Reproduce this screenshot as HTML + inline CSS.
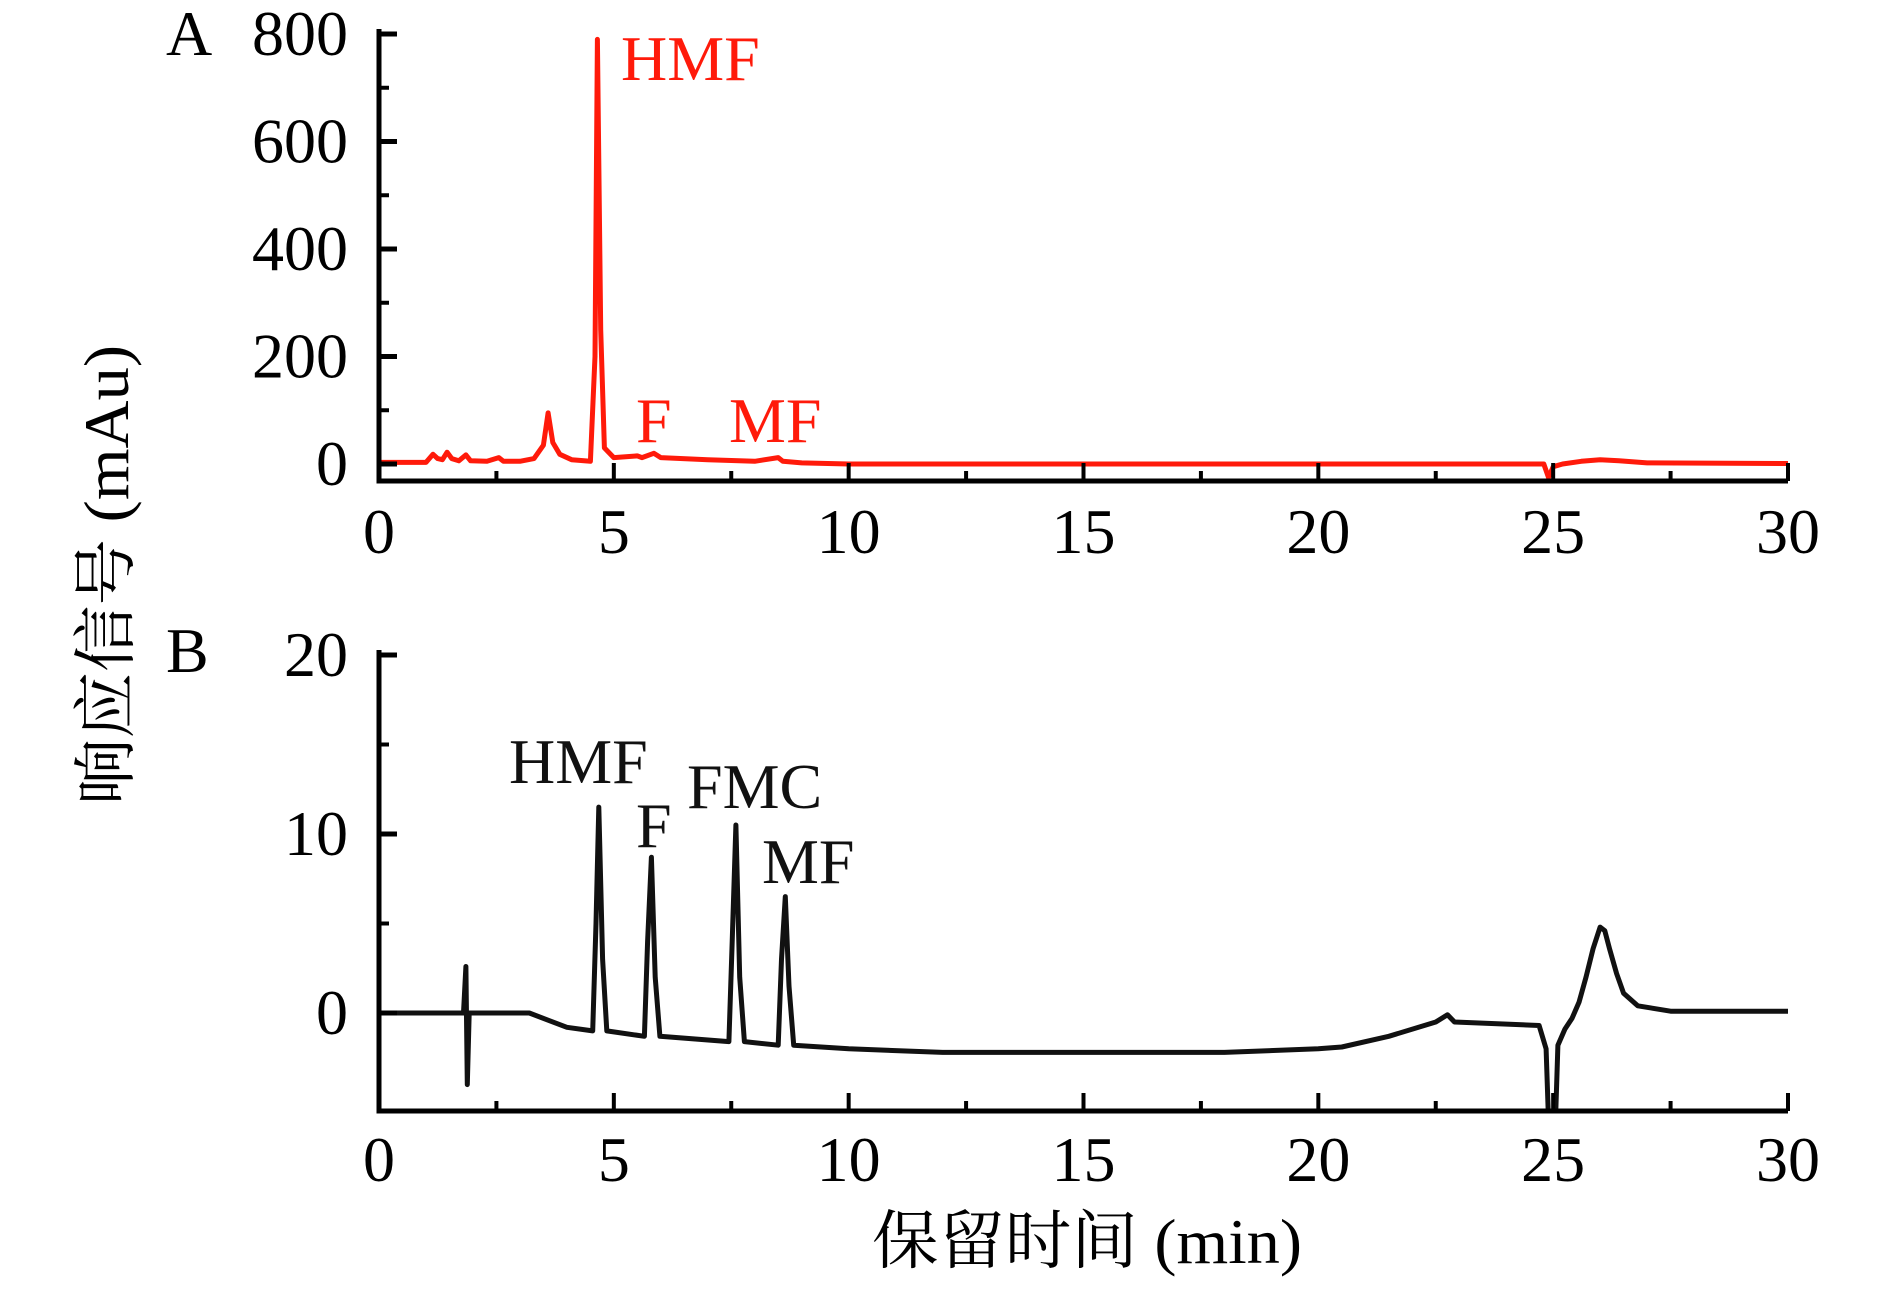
<!DOCTYPE html>
<html><head><meta charset="utf-8"><style>
html,body{margin:0;padding:0;background:#fff;}
svg text{font-family:"Liberation Serif","Noto Serif CJK SC",serif;}
</style></head><body>
<svg id="chart" width="1890" height="1284" viewBox="0 0 1890 1284" xmlns="http://www.w3.org/2000/svg"></svg>
<script>
// Panel A data (red)
const aTimes = [0,1.0,1.15,1.25,1.35,1.45,1.55,1.7,1.85,1.95,2.3,2.55,2.65,3.0,3.3,3.5,3.6,3.7,3.85,4.1,4.5,4.6,4.65,4.72,4.8,5.0,5.5,5.6,5.85,6.0,7.0,8.0,8.5,8.6,9.0,10,15,20,24.8,24.9,25.0,25.2,25.6,26.0,26.4,27,30];
const aValues = [3,3,18,10,8,22,10,6,17,6,5,12,5,5,10,35,95,40,18,8,5,200,790,250,30,12,15,12,20,12,8,5,12,5,2,0,0,0,0,-25,-5,0,5,8,6,2,1];
// Panel B data (black)
const bTimes = [0,1.8,1.85,1.88,1.92,3.2,3.6,4.0,4.55,4.62,4.68,4.76,4.85,5.65,5.72,5.8,5.88,5.98,7.45,7.52,7.6,7.68,7.78,8.5,8.57,8.65,8.73,8.83,10,12,18,20,20.5,21.5,22.5,22.75,22.9,24.7,24.85,24.9,25.05,25.1,25.25,25.4,25.55,25.7,25.85,26.0,26.1,26.2,26.35,26.5,26.8,27.5,30];
const bValues = [0,0,2.6,-4,0,0,-0.4,-0.8,-1.0,5,11.5,3,-1.0,-1.3,4,8.7,2,-1.3,-1.6,4,10.5,2,-1.6,-1.8,3,6.5,1.5,-1.8,-2.0,-2.2,-2.2,-2.0,-1.9,-1.3,-0.5,-0.1,-0.5,-0.7,-2,-6,-6,-1.8,-0.9,-0.3,0.6,2,3.6,4.8,4.6,3.6,2.2,1.1,0.4,0.1,0.1];
const xTicks = [0,5,10,15,20,25,30];
const aYTicks = [0,200,400,600,800];
const bYTicks = [0,10,20];

const svg = document.getElementById('chart');
const NS = 'http://www.w3.org/2000/svg';
function mk(tag, attrs, parent){ const e=document.createElementNS(NS,tag); for(const k in attrs) e.setAttribute(k,attrs[k]); (parent||svg).appendChild(e); return e; }

const X0=379, X1=1788;
const xs = t => X0 + (t/30)*(X1-X0);
const yA = v => 464 - v*(430/800);
const yB = v => 1013 - v*17.9;

function panel(name, ys, axisY, topY, yTicks, minorStep, majorStep, vmaxMinor, times, vals, color, letter, letterY, xLabelY){
  const g = mk('g',{});
  
  
  const clipId = name+'-clip';
  const cp = mk('clipPath',{id:clipId}, g);
  mk('rect',{x:X0,y:topY,width:X1-X0,height:axisY-topY-2}, cp);
  let d='';
  times.forEach((t,i)=>{ d += (i?'L':'M')+xs(t).toFixed(1)+','+ys(vals[i]).toFixed(1); });
  const p = mk('path',{d:d,fill:'none',stroke:color,'stroke-width':5,'stroke-linejoin':'round','clip-path':'url(#'+clipId+')'}, g);
  
  
  const ax = mk('path',{d:`M${X0},${topY}L${X0},${axisY}L${X1},${axisY}`,fill:'none',stroke:'#000','stroke-width':5}, g);
  
  
  for(let t=0;t<=30;t+=2.5){
    const major = t%5===0;
    mk('line',{x1:xs(t),x2:xs(t),y1:axisY,y2:axisY-(major?18:10),stroke:'#000','stroke-width':4}, g);
  }
  xTicks.forEach(t=>{
    const tx = mk('text',{x:xs(t),y:xLabelY,'font-size':64,'text-anchor':'middle',fill:'#000'}, g);
    tx.textContent = t;
    
    
  });
  for(let v=0; v<=vmaxMinor+1e-9; v+=minorStep){
    const major = Math.abs(v/majorStep - Math.round(v/majorStep))<1e-6;
    mk('line',{x1:X0,x2:X0+(major?18:10),y1:ys(v),y2:ys(v),stroke:'#000','stroke-width':major?5:4}, g);
  }
  yTicks.forEach(v=>{
    const tx = mk('text',{x:348,y:ys(v)+21,'font-size':64,'text-anchor':'end',fill:'#000'}, g);
    tx.textContent = v;
    
    
  });
  const L = mk('text',{x:166,y:letterY,'font-size':64,fill:'#000'}, g);
  L.textContent = letter;
  
  
  return g;
}

const gA = panel('panel-a', yA, 481, 29, aYTicks, 100, 200, 800, aTimes, aValues, '#ff1a0a', 'A', 55, 553);
const gB = panel('panel-b', yB, 1111, 650, bYTicks, 5, 10, 20, bTimes, bValues, '#111', 'B', 672, 1181);

function label(txt, x, y, color, g){
  const t = mk('text',{x:x,y:y,'font-size':64,fill:color}, g);
  t.textContent = txt;
  
  
}
label('HMF',621,80,'#ff1a0a',gA);
label('F',636,442,'#ff1a0a',gA);
label('MF',729,442,'#ff1a0a',gA);
label('HMF',509,783,'#111',gB);
label('F',636,847,'#111',gB);
label('FMC',687,808,'#111',gB);
label('MF',762,883,'#111',gB);

const yt = mk('text',{x:0,y:0,'font-size':64,'text-anchor':'middle',fill:'#000',transform:'translate(128,575) rotate(-90)',textLength:460,lengthAdjust:'spacingAndGlyphs'});
yt.textContent = '响应信号 (mAu)';



const xt = mk('text',{x:1087,y:1263,'font-size':64,'text-anchor':'middle',fill:'#000',textLength:430,lengthAdjust:'spacingAndGlyphs'});
xt.textContent = '保留时间 (min)';


</script>
</body></html>
